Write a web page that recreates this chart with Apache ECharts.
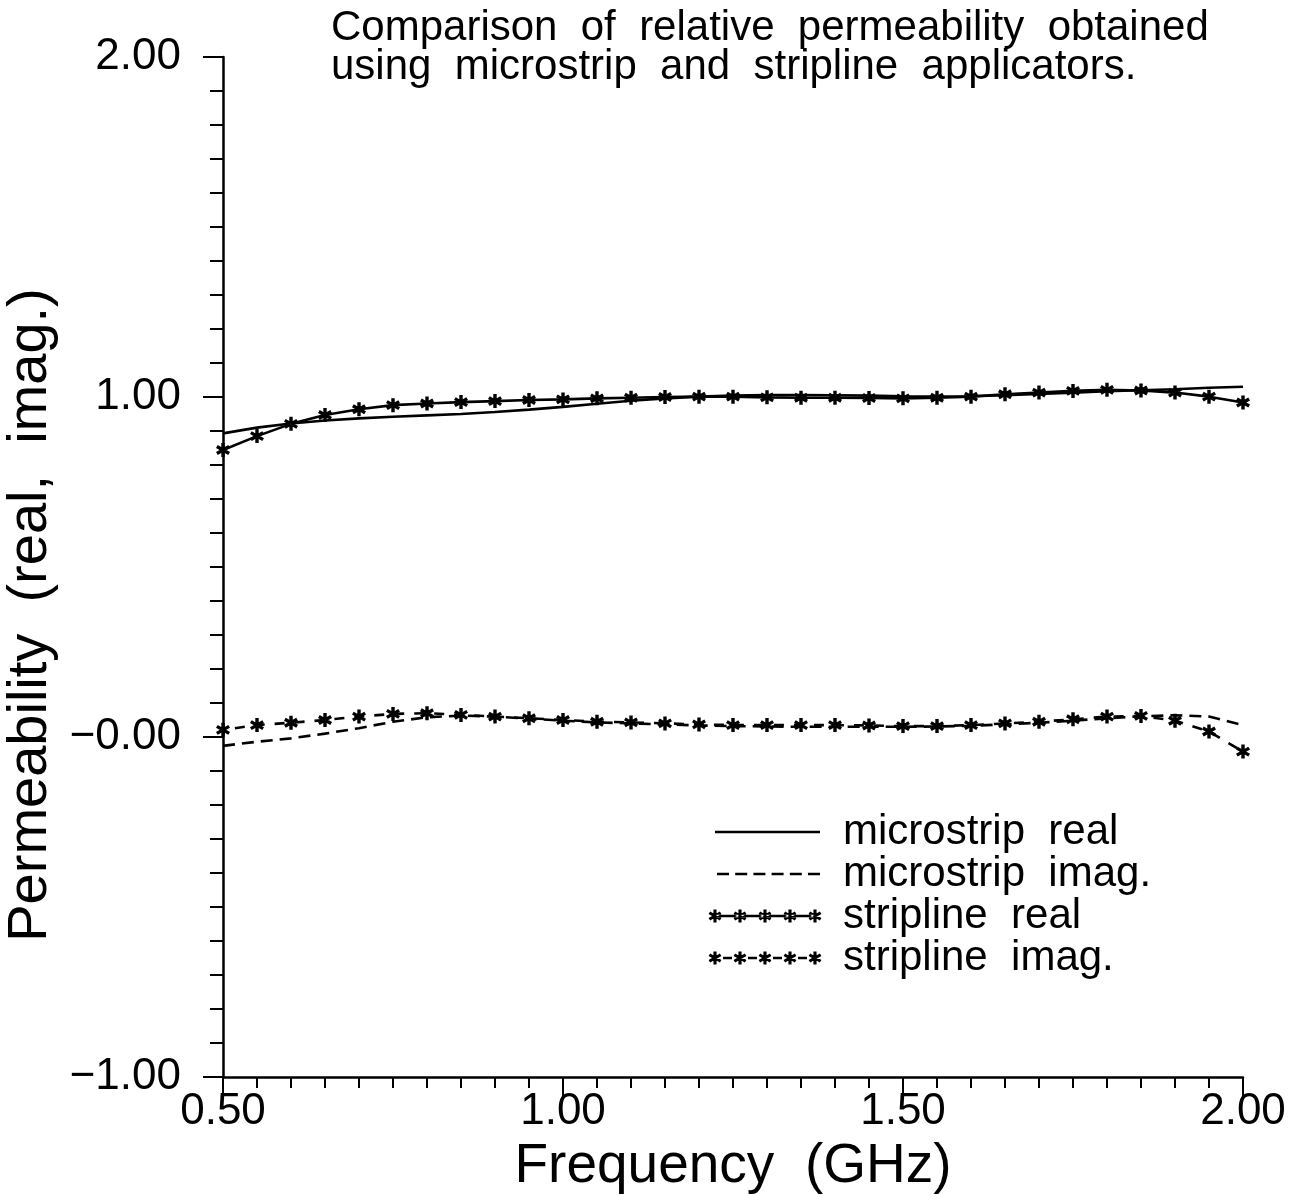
<!DOCTYPE html>
<html>
<head>
<meta charset="utf-8">
<script src="https://cdn.jsdelivr.net/npm/echarts@6/dist/echarts.min.js"></script>
<style>
html,body{margin:0;padding:0;background:#fff;}
#chart{width:1292px;height:1194px;}
</style>
</head>
<body>
<div id="chart"></div>
<script>
// ---- data ----
var frequency = [0.50,0.55,0.60,0.65,0.70,0.75,0.80,0.85,0.90,0.95,1.00,1.05,1.10,1.15,1.20,1.25,1.30,1.35,1.40,1.45,1.50,1.55,1.60,1.65,1.70,1.75,1.80,1.85,1.90,1.95,2.00];
var microstripReal = [0.893,0.910,0.922,0.931,0.937,0.942,0.946,0.950,0.956,0.963,0.971,0.980,0.989,0.996,1.001,1.004,1.006,1.006,1.005,1.004,1.002,1.001,1.002,1.005,1.009,1.013,1.017,1.020,1.023,1.027,1.030];
var microstripImag = [-0.026,-0.014,-0.004,0.010,0.026,0.045,0.058,0.063,0.060,0.054,0.048,0.043,0.040,0.037,0.034,0.032,0.031,0.030,0.030,0.030,0.030,0.031,0.033,0.037,0.042,0.048,0.055,0.061,0.064,0.060,0.035];
var striplineReal = [0.844,0.885,0.921,0.947,0.964,0.976,0.981,0.985,0.988,0.991,0.993,0.996,0.998,1.000,1.001,1.001,0.999,0.998,0.998,0.997,0.996,0.998,1.001,1.008,1.013,1.018,1.021,1.019,1.013,1.001,0.984];
var striplineImag = [0.021,0.035,0.042,0.050,0.060,0.068,0.070,0.065,0.060,0.055,0.050,0.045,0.043,0.040,0.037,0.035,0.035,0.035,0.035,0.034,0.032,0.032,0.035,0.040,0.045,0.052,0.060,0.062,0.048,0.016,-0.043];
var seriesNames = ['microstrip  real','microstrip  imag.','stripline  real','stripline  imag.'];
var xTickValues = [0.5,1.0,1.5,2.0];
var xTickLabels = ['0.50','1.00','1.50','2.00'];
var yTickValues = [-1,0,1,2];
var yTickLabels = ['\u22121.00','\u22120.00','1.00','2.00'];
var titleLines = ['Comparison  of  relative  permeability  obtained','using  microstrip  and  stripline  applicators.'];
var xAxisTitle = 'Frequency  (GHz)';
var yAxisTitle = 'Permeability  (real,  imag.)';

// ---- symbols ----
var HW = 12;
function starPolys() {
  var c = 50, L = 50, out = [];
  [90, 30, 150].forEach(function(deg){
    var t = deg*Math.PI/180, u = [Math.cos(t), -Math.sin(t)], n = [Math.sin(t), Math.cos(t)];
    out.push([
      [c+L*u[0]+HW*n[0], c+L*u[1]+HW*n[1]],
      [c+L*u[0]-HW*n[0], c+L*u[1]-HW*n[1]],
      [c-L*u[0]-HW*n[0], c-L*u[1]-HW*n[1]],
      [c-L*u[0]+HW*n[0], c-L*u[1]+HW*n[1]]
    ]);
  });
  return out;
}
function starAt(cx, cy, s) {
  var k = s/100, out = '';
  starPolys().forEach(function(p){
    out += 'M' + p.map(function(q){return (cx - s/2 + q[0]*k).toFixed(2)+' '+(cy - s/2 + q[1]*k).toFixed(2);}).join('L') + 'Z ';
  });
  return out;
}
var STAR = 'path://' + starAt(50, 50, 100);
function rect(x0, x1, cy, h) {
  return 'M'+x0+' '+(cy-h/2)+'L'+x1+' '+(cy-h/2)+'L'+x1+' '+(cy+h/2)+'L'+x0+' '+(cy+h/2)+'Z ';
}
var IW = 133, IH = 24, CY = 12, LW = 2.6;
var box = 'M0 0 M'+IW+' '+IH+' ';
var iconSolid = 'path://' + box + rect(10, 115, CY, LW);
var iconDash = (function(){ var s='path://'+box; for (var i=0;i<6;i++){ var a=12+i*18.2; s+=rect(a.toFixed(1), (a+12).toFixed(1), CY, LW);} return s; })();
var iconStarSolid = (function(){ var s='path://'+box+rect(10,110,CY,LW); for (var i=0;i<5;i++){ s+=starAt(10+i*25, CY, 13);} return s; })();
var iconStarDash = (function(){ var s='path://'+box; for (var i=0;i<5;i++){ s+=starAt(10+i*25, CY, 13); if(i<4){ s+=rect(10+i*25+8, 10+i*25+17, CY, LW);} } return s; })();

function pairs(xs, ys){ return xs.map(function(x,i){return [x, ys[i]];}); }

var FONT = 'Liberation Sans';
var chart = echarts.init(document.getElementById('chart'), null, {renderer:'canvas'});
var option = {
  animation: false,
  backgroundColor: '#ffffff',
  title: {
    text: titleLines.join('\n'),
    left: 326, top: 4,
    textStyle: {fontFamily: FONT, fontSize: 42, fontWeight: 'normal', color: '#000', lineHeight: 39}
  },
  legend: {
    orient: 'vertical',
    left: 700, top: 806,
    itemWidth: IW, itemHeight: IH,
    itemGap: 0,
    selectedMode: false,
    itemStyle: {color: '#000', borderWidth: 0},
    textStyle: {fontFamily: FONT, fontSize: 42, color: '#000', lineHeight: 38},
    data: [
      {name: seriesNames[0], icon: iconSolid},
      {name: seriesNames[1], icon: iconDash},
      {name: seriesNames[2], icon: iconStarSolid},
      {name: seriesNames[3], icon: iconStarDash}
    ]
  },
  grid: {left: 223, right: 49, top: 57, bottom: 117, containLabel: false, outerBoundsMode: 'none'},
  xAxis: {
    type: 'value', min: 0.5, max: 2.0, interval: 0.5,
    name: xAxisTitle, nameLocation: 'middle', nameGap: 58,
    nameTextStyle: {fontFamily: FONT, fontSize: 55, color: '#000'},
    axisLine: {show: true, onZero: false, lineStyle: {color: '#000', width: 2.5}},
    axisTick: {show: true, length: 20, lineStyle: {color: '#000', width: 2}},
    minorTick: {show: true, splitNumber: 10, length: 11, lineStyle: {color: '#000', width: 2}},
    splitLine: {show: false},
    axisLabel: {
      margin: 13, fontFamily: FONT, fontSize: 44, color: '#000',
      formatter: function(v){ var i = xTickValues.findIndex(function(t){return Math.abs(t-v)<1e-9;}); return i>=0 ? xTickLabels[i] : ''; }
    }
  },
  yAxis: {
    type: 'value', min: -1, max: 2, interval: 1,
    name: yAxisTitle, nameLocation: 'middle', nameGap: 158, nameRotate: 90,
    nameTextStyle: {fontFamily: FONT, fontSize: 56, color: '#000', padding: [0, 96, 0, 0]},
    axisLine: {show: true, onZero: false, lineStyle: {color: '#000', width: 2.5}},
    axisTick: {show: true, length: 20, lineStyle: {color: '#000', width: 2}},
    minorTick: {show: true, splitNumber: 10, length: 13, lineStyle: {color: '#000', width: 2}},
    splitLine: {show: false},
    axisLabel: {
      margin: 42, fontFamily: FONT, fontSize: 44, color: '#000',
      formatter: function(v){ var i = yTickValues.findIndex(function(t){return Math.abs(t-v)<1e-9;}); return i>=0 ? yTickLabels[i] : ''; }
    }
  },
  series: [
    {name: seriesNames[0], type: 'line', data: pairs(frequency, microstripReal), symbol: 'none',
     lineStyle: {color: '#000', width: 2.6}, itemStyle: {color: '#000'}, emphasis: {disabled: true}, z: 2},
    {name: seriesNames[1], type: 'line', data: pairs(frequency, microstripImag), symbol: 'none',
     lineStyle: {color: '#000', width: 2.6, type: [12, 7]}, itemStyle: {color: '#000'}, emphasis: {disabled: true}, z: 2},
    {name: seriesNames[2], type: 'line', data: pairs(frequency, striplineReal), symbol: STAR, symbolSize: 14, showAllSymbol: true,
     lineStyle: {color: '#000', width: 2.6}, itemStyle: {color: '#000', borderWidth: 0}, emphasis: {disabled: true}, z: 3},
    {name: seriesNames[3], type: 'line', data: pairs(frequency, striplineImag), symbol: STAR, symbolSize: 14, showAllSymbol: true,
     lineStyle: {color: '#000', width: 2.6, type: [10, 10], dashOffset: -12}, itemStyle: {color: '#000', borderWidth: 0}, emphasis: {disabled: true}, z: 3}
  ]
};
chart.setOption(option);
</script>
</body>
</html>
